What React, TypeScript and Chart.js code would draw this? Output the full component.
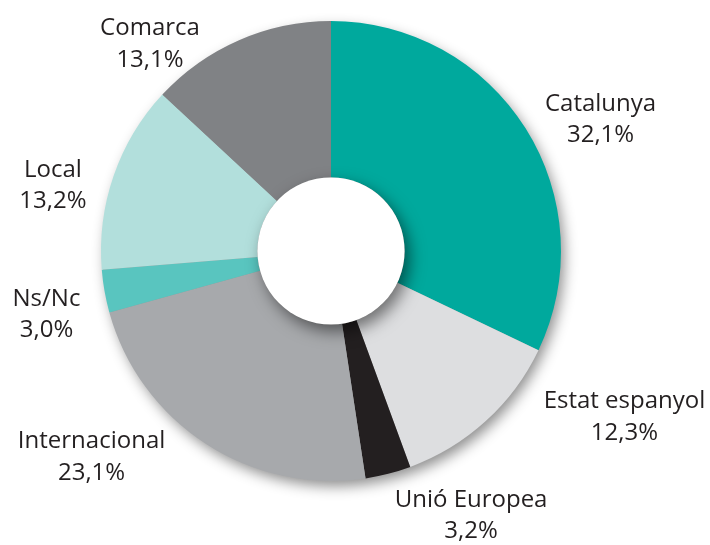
import React, { useEffect, useRef } from "react";
import { Chart, registerables } from "chart.js";

Chart.register(...registerables);

const categories = ["Catalunya", "Estat espanyol", "Unió Europea", "Internacional", "Ns/Nc", "Local", "Comarca"];
const values = [32.1, 12.3, 3.2, 23.1, 3.0, 13.2, 13.1];
const valueLabels = ["32,1%", "12,3%", "3,2%", "23,1%", "3,0%", "13,2%", "13,1%"];
const colors = ["#00A99D", "#DDDEE0", "#231F20", "#A7A9AC", "#59C5BF", "#B2DFDC", "#808285"];
// label anchor offsets relative to outer radius (dx/R, dy/R) of first-line baseline
const labelOffsets = [
  [1.172, -0.609],
  [1.276, 0.683],
  [0.609, 1.113],
  [-1.041, 0.857],
  [-1.237, 0.239],
  [-1.209, -0.322],
  [-0.787, -0.939],
];

const shadowPlugin = {
  id: "shadowPlugin",
  beforeDatasetsDraw(chart: any) {
    const arc = chart.getDatasetMeta(0).data[0];
    if (!arc) return;
    const { x, y, outerRadius } = arc;
    const ctx = chart.ctx;
    ctx.save();
    ctx.shadowColor = "rgba(0,0,0,0.45)";
    ctx.shadowBlur = 14;
    ctx.shadowOffsetX = 4;
    ctx.shadowOffsetY = 6;
    ctx.fillStyle = "#999";
    ctx.beginPath();
    ctx.arc(x, y, outerRadius - 1, 0, Math.PI * 2);
    ctx.fill();
    ctx.restore();
  },
  afterDatasetsDraw(chart: any) {
    const arc = chart.getDatasetMeta(0).data[0];
    if (!arc) return;
    const { x, y, outerRadius, innerRadius } = arc;
    const ctx = chart.ctx;
    ctx.save();
    ctx.beginPath();
    ctx.arc(x, y, outerRadius, 0, Math.PI * 2);
    ctx.clip();
    ctx.shadowColor = "rgba(0,0,0,0.5)";
    ctx.shadowBlur = 16;
    ctx.shadowOffsetX = 5;
    ctx.shadowOffsetY = 7;
    ctx.fillStyle = "#ffffff";
    ctx.beginPath();
    ctx.arc(x, y, innerRadius, 0, Math.PI * 2);
    ctx.fill();
    ctx.restore();
  },
  afterDraw(chart: any) {
    const arc = chart.getDatasetMeta(0).data[0];
    if (!arc) return;
    const { x, y, outerRadius } = arc;
    const ctx = chart.ctx;
    ctx.save();
    ctx.fillStyle = "#231F20";
    ctx.font = '24px "Open Sans"';
    ctx.textAlign = "center";
    ctx.textBaseline = "alphabetic";
    categories.forEach((c, i) => {
      const lx = x + labelOffsets[i][0] * outerRadius;
      const ly = y + labelOffsets[i][1] * outerRadius;
      ctx.fillText(c, lx, ly);
      ctx.fillText(valueLabels[i], lx, ly + 31.5);
    });
    ctx.restore();
  },
};

export default function App() {
  const ref = useRef<HTMLCanvasElement>(null);
  useEffect(() => {
    if (!ref.current) return;
    const chart = new Chart(ref.current, {
      type: "doughnut",
      data: {
        labels: categories,
        datasets: [
          {
            data: values,
            backgroundColor: colors,
            borderWidth: 0,
          },
        ],
      },
      options: {
        responsive: false,
        animation: false,
        cutout: "32%",
        layout: { padding: { left: 101, right: 149, top: 21, bottom: 64 } },
        plugins: {
          legend: { display: false },
          tooltip: { enabled: false },
        },
      },
      plugins: [shadowPlugin],
    });
    return () => chart.destroy();
  }, []);
  return (
    <div style={{ position: "fixed", left: 0, top: 0, width: 710, height: 545, background: "#fff" }}>
      <canvas ref={ref} width={710} height={545} style={{ width: 710, height: 545 }} />
    </div>
  );
}
